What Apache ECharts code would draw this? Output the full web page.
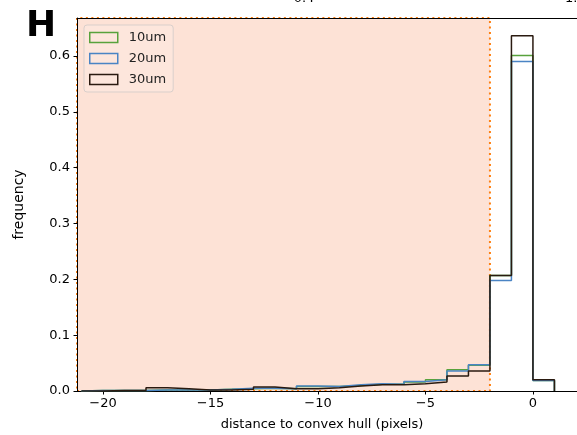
<!DOCTYPE html>
<html><head><meta charset="utf-8">
<script src="https://cdn.jsdelivr.net/npm/echarts@6/dist/echarts.min.js"></script>
<style>html,body{margin:0;padding:0;background:#fff}#c{width:577px;height:435px}</style>
</head><body><div id="c"></div>
<script>
// bin left edges (bins width 1)
const binStarts = [-21,-20,-19,-18,-17,-16,-15,-14,-13,-12,-11,-10,-9,-8,-7,-6,-5,-4,-3,-2,-1,0];
const binWidth = 1;
const freq10 = [0.001,0.001,0.001,0.002,0.002,0.002,0.003,0.004,0.005,0.004,0.008,0.008,0.010,0.012,0.012,0.016,0.020,0.038,0.046,0.207,0.601,0.019];
const freq20 = [0.001,0.001,0.001,0.002,0.002,0.002,0.003,0.005,0.005,0.004,0.009,0.008,0.011,0.013,0.012,0.017,0.020,0.036,0.047,0.198,0.590,0.019];
const freq30 = [0.000,0.001,0.001,0.006,0.004,0.002,0.002,0.003,0.007,0.004,0.004,0.006,0.009,0.011,0.011,0.013,0.016,0.027,0.036,0.207,0.636,0.020];
const seriesNames = ['10um','20um','30um'];
const xTicks = [-20,-15,-10,-5,0];
const yTicks = [0,0.1,0.2,0.3,0.4,0.5,0.6];
const shadeFrom = -21.21, shadeTo = -2;
const xMin = -21.21, xMax = 2.05, yMax = 0.668;

const colors = ['#58a23c','#4a84c4','#2a1a10'];
function stepPath(h){
  const pts = [[binStarts[0],0]];
  for(let i=0;i<h.length;i++){
    pts.push([binStarts[i],h[i]]);
    pts.push([binStarts[i]+binWidth,h[i]]);
  }
  pts.push([binStarts[h.length-1]+binWidth,0]);
  return pts;
}
const datasets=[freq10,freq20,freq30];
const font='DejaVu Sans';
const chart = echarts.init(document.getElementById('c'),null,{renderer:'canvas'});
const histSeries = datasets.map((d,i)=>({
  name: seriesNames[i], type:'line', data: stepPath(d), symbol:'none', z:5+i,
  lineStyle:{color:colors[i],width:1.5}, itemStyle:{color:colors[i]}, silent:true
}));
chart.setOption({
  animation:false,
  grid:{left:77,top:18,right:0,bottom:44},
  xAxis:[{type:'value',min:xMin,max:xMax,z:3,
    axisLine:{show:true,onZero:false,lineStyle:{color:'#000',width:1}},
    axisTick:{show:true,length:3.5,lineStyle:{color:'#000'},customValues:xTicks},
    axisLabel:{customValues:xTicks,margin:6,color:'#000',fontFamily:font,fontSize:13,
      formatter:v=>String(v).replace('-','\u2212')},
    splitLine:{show:false}},
    {type:'value',position:'top',min:xMin,max:xMax,z:3,
    axisLine:{show:true,onZero:false,lineStyle:{color:'#000',width:1}},
    axisTick:{show:false},axisLabel:{show:false},splitLine:{show:false}}],
  yAxis:{type:'value',min:0,max:yMax,z:3,
    name:'frequency',nameLocation:'middle',nameGap:51,
    nameTextStyle:{color:'#000',fontFamily:font,fontSize:14},
    axisLine:{show:true,onZero:false,lineStyle:{color:'#000',width:1}},
    axisTick:{show:true,length:3.5,lineStyle:{color:'#000'},customValues:yTicks},
    axisLabel:{customValues:yTicks,margin:7,color:'#000',fontFamily:font,fontSize:13,
      formatter:v=>v.toFixed(1)},
    splitLine:{show:false}},
  legend:{orient:'vertical',left:84,top:25,padding:[6,7,6,5],itemGap:8,
    itemWidth:28,itemHeight:10,
    backgroundColor:'rgba(255,255,255,0.15)',borderColor:'#d9cfcb',borderWidth:1,borderRadius:3,
    textStyle:{fontFamily:font,fontSize:13,color:'#222',padding:[0,0,0,6]},
    data:seriesNames.map((n,i)=>({name:n,icon:'rect',
      itemStyle:{color:'rgba(0,0,0,0)',borderColor:colors[i],borderWidth:1.5}}))},
  graphic:[
    {type:'text',left:26,top:9,style:{text:'H',font:'bold 36px "DejaVu Sans"',fill:'#000'}},
    {type:'text',x:322,y:425,style:{text:'distance to convex hull (pixels)',font:'13px "DejaVu Sans"',fill:'#000',align:'center',verticalAlign:'middle'}},
    {type:'text',x:304,y:-1,style:{text:'0.4',font:'13px "DejaVu Sans"',fill:'#000',align:'center',verticalAlign:'middle'}},
    {type:'text',x:565,y:-1,style:{text:'1.',font:'13px "DejaVu Sans"',fill:'#000',align:'left',verticalAlign:'middle'}}
  ],
  series:[
    {name:'shade',type:'line',data:[],z:1,silent:true,
      markArea:{silent:true,itemStyle:{color:'#fde2d6',borderWidth:0},
        data:[[{xAxis:shadeFrom,yAxis:0},{xAxis:shadeTo,yAxis:yMax}]]}},
    {name:'shadeBorder',type:'line',data:[],z:4,silent:true,
      markArea:{silent:true,itemStyle:{color:'rgba(0,0,0,0)',borderColor:'#ff7f0e',borderWidth:2,borderType:[2,3.5]},
        data:[[{xAxis:shadeFrom,yAxis:0},{xAxis:shadeTo,yAxis:yMax}]]}}
  ].concat(histSeries)
});
</script></body></html>
